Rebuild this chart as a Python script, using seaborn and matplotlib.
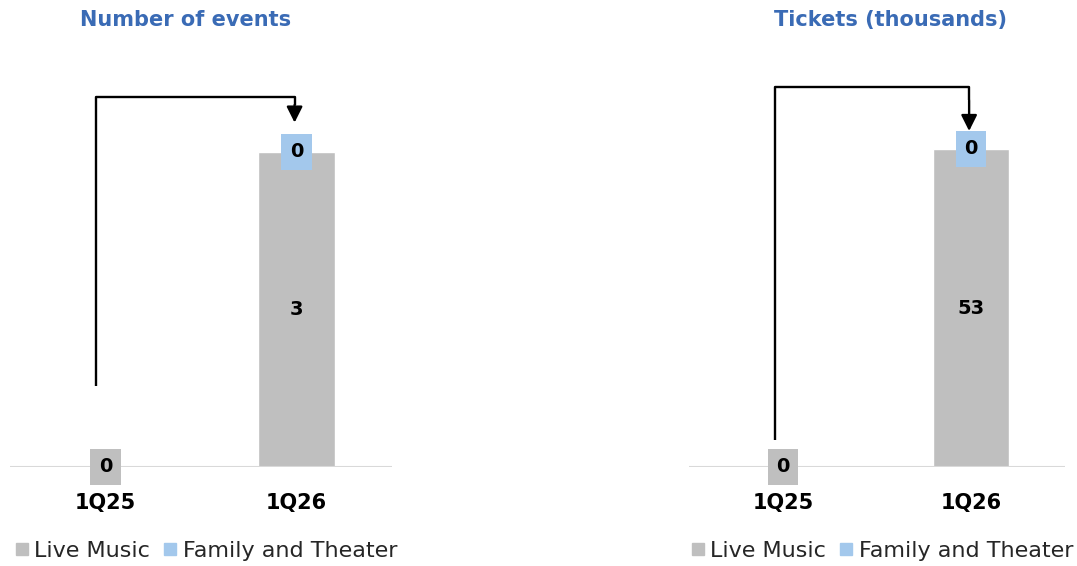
import matplotlib
matplotlib.use('Agg')
import matplotlib.pyplot as plt
from matplotlib.lines import Line2D
import seaborn as sns
import pandas as pd

sns.set_theme(style='white')
plt.rcParams['font.family'] = ['DejaVu Sans']

# 数据
quarters = ['1Q25', '1Q26']
events_live = [0, 3]
events_family = [0, 0]
tickets_live = [0, 53]
tickets_family = [0, 0]
titles = ['Number of events', 'Tickets (thousands)']
series_names = ['Live Music', 'Family and Theater']

grey = '#BFBFBF'
blue = '#A3C8EC'
title_blue = '#3A6BB5'

fig = plt.figure(figsize=(10.77, 5.66), dpi=100)
ax1 = fig.add_axes([10 / 1077, 1 - 467 / 566, 382 / 1077, 407 / 566])
ax2 = fig.add_axes([689 / 1077, 1 - 467 / 566, 376 / 1077, 407 / 566])


def draw_panel(ax, live, family, ymax, arrow):
    df = pd.DataFrame({'q': quarters, 'live': live, 'family': family})
    df['total'] = df['live'] + df['family']
    # 先画总和（蓝），再叠加灰色
    sns.barplot(data=df, x='q', y='total', color=blue, width=0.4,
                saturation=1, ax=ax)
    sns.barplot(data=df, x='q', y='live', color=grey, width=0.4,
                saturation=1, ax=ax)
    ax.set_ylim(0, ymax)
    ax.set_xlim(-0.5, 1.5)
    ax.axhline(0, color='#D9D9D9', lw=1.5, zorder=1)
    sns.despine(ax=ax, left=True, bottom=True)
    ax.set_yticks([])
    ax.set_xlabel('')
    ax.set_ylabel('')
    ax.tick_params(axis='x', length=0, pad=19)
    for lab in ax.get_xticklabels():
        lab.set_fontsize(15)
        lab.set_fontweight('bold')
        lab.set_color('black')

    # 数据标签
    for i, (lv, fv) in enumerate(zip(live, family)):
        ax.text(i, lv / 2, f'{lv}', ha='center', va='center', fontsize=14,
                fontweight='bold', color='black', zorder=5,
                bbox=dict(boxstyle='square,pad=0.45', fc=grey, ec='none'))
        if lv > 0:
            ax.text(i, lv + fv / 2, f'{fv}', ha='center', va='center',
                    fontsize=14, fontweight='bold', color='black', zorder=5,
                    bbox=dict(boxstyle='square,pad=0.45', fc=blue, ec='none'))

    # 折线箭头
    x0, y0, ytop, xend, ytip = arrow
    ax.plot([x0, x0, xend, xend], [y0, ytop, ytop, ytop - (ytop - ytip) * 0.3],
            color='black', lw=1.7, solid_capstyle='butt', zorder=4,
            clip_on=False)
    ax.annotate('', xy=(xend, ytip), xytext=(xend, ytop - (ytop - ytip) * 0.3),
                arrowprops=dict(arrowstyle='-|>,head_length=0.8,head_width=0.4',
                                color='black', lw=1.7, shrinkA=0, shrinkB=0),
                annotation_clip=False, zorder=4)


draw_panel(ax1, events_live, events_family, 3 * 407 / 315,
           (-0.05, 0.77, 3.52, 0.99, 3.28))
draw_panel(ax2, tickets_live, tickets_family, 53 * 407 / 318,
           (-0.04, 4.5, 63.3, 0.99, 56.0))

fig.text(186 / 1077, 1 - 20 / 566, titles[0], ha='center', va='center',
         fontsize=15, fontweight='bold', color=title_blue)
fig.text(890 / 1077, 1 - 20 / 566, titles[1], ha='center', va='center',
         fontsize=15, fontweight='bold', color=title_blue)

handles = [Line2D([], [], marker='s', ls='', color=grey, markersize=9),
           Line2D([], [], marker='s', ls='', color=blue, markersize=9)]
for xpos in [10 / 1077, 686 / 1077]:
    fig.legend(handles, series_names, loc='center left',
               bbox_to_anchor=(xpos, 1 - 551 / 566), ncol=2, frameon=False,
               fontsize=16, labelcolor='#262626', handletextpad=0.0,
               columnspacing=0.35, handlelength=1.1, borderaxespad=0,
               borderpad=0)

fig.savefig('out.png', dpi=100)
